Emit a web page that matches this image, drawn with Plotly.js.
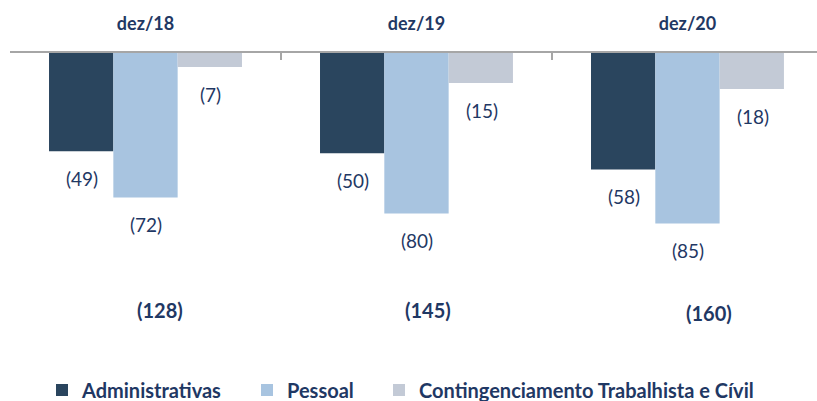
<!DOCTYPE html>
<html>
<head>
<meta charset="utf-8">
<script src="https://cdn.plot.ly/plotly-3.0.1.min.js"></script>
<style>html,body{margin:0;padding:0;background:#fff;}#chart{width:817px;height:401px;}</style>
</head>
<body>
<div id="chart"></div>
<script>
// ---- data ----
const categories = ["dez/18", "dez/19", "dez/20"];
const administrativas = [-49, -50, -58];
const pessoal = [-72, -80, -85];
const contingenciamento = [-7, -15, -18];
const totals = [-128, -145, -160];
const seriesNames = ["Administrativas", "Pessoal", "Contingenciamento Trabalhista e Cívil"];

// ---- styling ----
const colors = ["#2A455E", "#A8C4E0", "#C3CAD6"];
const navy = "#1F3864";
const fontFam = "Lato, 'Open Sans', sans-serif";
const bargap = 0.288;
const legendNames = ["legend", "legend2", "legend3"];
const legendX = [42, 247, 379];

const series = [administrativas, pessoal, contingenciamento];
const fmt = v => "(" + Math.abs(v) + ")";

const traces = series.map((vals, s) => ({
  type: "bar",
  name: seriesNames[s],
  x: categories,
  y: vals,
  legend: legendNames[s],
  marker: {color: colors[s], line: {width: 0}},
  hoverinfo: "skip"
}));

const bw = (1 - bargap) / 3;
const annotations = [];
series.forEach((vals, s) => {
  vals.forEach((v, i) => {
    annotations.push({
      x: i + (s - 1) * bw, y: v, xref: "x", yref: "y",
      text: fmt(v), showarrow: false, yshift: -27, xshift: 1,
      font: {family: fontFam, size: 19, color: navy}
    });
  });
});
const totalY = [-128, -128, -129.5];
const totalShift = [15, 12, 22];
totals.forEach((t, i) => {
  annotations.push({
    x: i, y: totalY[i], xref: "x", yref: "y", xshift: totalShift[i],
    text: "<b>" + fmt(t) + "</b>", showarrow: false,
    font: {family: fontFam, size: 20, color: navy}
  });
});

const legendStyle = x => ({
  orientation: "h", xref: "container", x: x / 817, xanchor: "left",
  yref: "container", y: 11 / 401, yanchor: "middle",
  font: {family: fontFam, size: 20, color: navy, weight: "bold"},
  itemwidth: 30, bgcolor: "rgba(0,0,0,0)"
});

const layout = {
  width: 817, height: 401,
  margin: {l: 10, r: 0, t: 53, b: 47, autoexpand: false},
  paper_bgcolor: "#fff", plot_bgcolor: "#fff",
  barmode: "group", bargap: bargap, bargroupgap: 0,
  showlegend: true,
  legend: legendStyle(legendX[0]),
  legend2: legendStyle(legendX[1]),
  legend3: legendStyle(legendX[2]),
  xaxis: {
    type: "category", side: "top", range: [-0.5, 2.478], automargin: false,
    showline: true, linecolor: "#A6A6A6", linewidth: 2,
    ticks: "inside", tickson: "boundaries", ticklen: 7, tickcolor: "#A6A6A6", tickwidth: 2,
    ticklabelstandoff: 14,
    tickfont: {family: fontFam, size: 18, color: navy, weight: "bold"},
    showgrid: false, zeroline: false, fixedrange: true
  },
  yaxis: {
    range: [-150, 0], visible: false, showgrid: false, zeroline: false, fixedrange: true
  },
  annotations: annotations
};

Plotly.newPlot("chart", traces, layout, {displayModeBar: false, staticPlot: true});
</script>
</body>
</html>
